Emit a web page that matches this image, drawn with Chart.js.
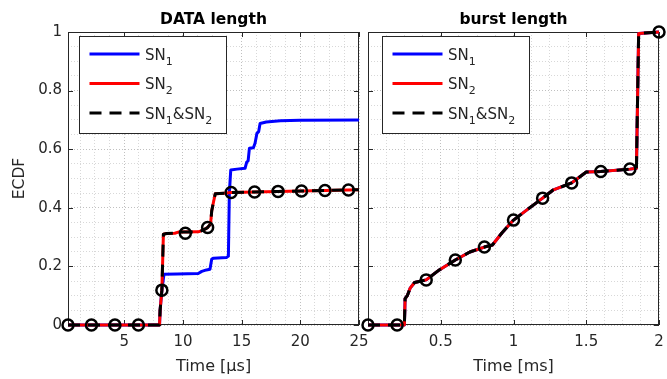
<!DOCTYPE html>
<html>
<head>
<meta charset="utf-8">
<script src="https://cdn.jsdelivr.net/npm/chart.js@4/dist/chart.umd.min.js"></script>
<style>
html, body { margin: 0; padding: 0; background: #fff; }
#wrap { position: relative; width: 667px; height: 379px; }
canvas { position: absolute; left: 0; top: 0; }
</style>
</head>
<body>
<div id="wrap">
  <canvas id="graficoDatos" width="667" height="379"></canvas>
  <canvas id="graficoRafaga" width="667" height="379"></canvas>
</div>
<script>
// DATA length (tiempo en us)
var datosSn1X = [0.2, 8.0, 8.05, 8.2, 8.38, 9.5, 11.3, 11.6, 12.0, 12.3, 12.45, 12.6, 13.7, 13.87, 13.95, 14.07, 14.6, 15.29, 15.43, 15.55, 15.66, 16.0, 16.14, 16.3, 16.45, 16.57, 17.1, 18.3, 20, 25];
var datosSn1Y = [0, 0, 0.05, 0.119, 0.173, 0.174, 0.176, 0.183, 0.188, 0.19, 0.225, 0.228, 0.23, 0.235, 0.45, 0.529, 0.532, 0.535, 0.556, 0.56, 0.603, 0.605, 0.62, 0.654, 0.66, 0.688, 0.693, 0.697, 0.699, 0.7];
var datosSn2X = [0.2, 8.0, 8.05, 8.2, 8.33, 8.6, 9.3, 9.6, 11.3, 11.6, 12.0, 12.1, 12.35, 12.45, 12.6, 12.75, 13.5, 14.1, 16.1, 18.1, 20.1, 22.1, 25];
var datosSn2Y = [0, 0, 0.05, 0.119, 0.31, 0.312, 0.313, 0.317, 0.318, 0.322, 0.33, 0.333, 0.345, 0.39, 0.42, 0.448, 0.45, 0.452, 0.454, 0.456, 0.457, 0.459, 0.462];
var datosAmbosX = [0.2, 8.0, 8.05, 8.2, 8.33, 8.6, 9.3, 9.6, 11.3, 11.6, 12.0, 12.1, 12.35, 12.45, 12.6, 12.75, 13.5, 14.1, 16.1, 18.1, 20.1, 22.1, 25];
var datosAmbosY = [0, 0, 0.05, 0.119, 0.31, 0.312, 0.313, 0.317, 0.318, 0.322, 0.33, 0.333, 0.345, 0.39, 0.42, 0.448, 0.45, 0.452, 0.454, 0.456, 0.457, 0.459, 0.462];
var datosMarcaX = [0.2, 2.2, 4.2, 6.2, 8.2, 10.2, 12.1, 14.1, 16.1, 18.1, 20.1, 22.1, 24.1];
var datosMarcaY = [0, 0, 0, 0, 0.119, 0.313, 0.333, 0.452, 0.454, 0.456, 0.457, 0.459, 0.461];

// burst length (tiempo en ms)
var rafagaSn1X = [0, 0.25, 0.255, 0.27, 0.29, 0.32, 0.4, 0.49, 0.6, 0.7, 0.8, 0.855, 0.92, 1.0, 1.09, 1.2, 1.27, 1.4, 1.5, 1.6, 1.8, 1.845, 1.86, 2.0];
var rafagaSn1Y = [0, 0, 0.09, 0.1, 0.126, 0.145, 0.154, 0.188, 0.222, 0.249, 0.266, 0.273, 0.314, 0.358, 0.392, 0.433, 0.46, 0.485, 0.522, 0.524, 0.532, 0.535, 0.995, 1.0];
var rafagaSn2X = [0, 0.25, 0.255, 0.27, 0.29, 0.32, 0.4, 0.49, 0.6, 0.7, 0.8, 0.855, 0.92, 1.0, 1.09, 1.2, 1.27, 1.4, 1.5, 1.6, 1.8, 1.845, 1.86, 2.0];
var rafagaSn2Y = [0, 0, 0.09, 0.1, 0.126, 0.145, 0.154, 0.188, 0.222, 0.249, 0.266, 0.273, 0.314, 0.358, 0.392, 0.433, 0.46, 0.485, 0.522, 0.524, 0.532, 0.535, 0.995, 1.0];
var rafagaAmbosX = [0, 0.25, 0.255, 0.27, 0.29, 0.32, 0.4, 0.49, 0.6, 0.7, 0.8, 0.855, 0.92, 1.0, 1.09, 1.2, 1.27, 1.4, 1.5, 1.6, 1.8, 1.845, 1.86, 2.0];
var rafagaAmbosY = [0, 0, 0.09, 0.1, 0.126, 0.145, 0.154, 0.188, 0.222, 0.249, 0.266, 0.273, 0.314, 0.358, 0.392, 0.433, 0.46, 0.485, 0.522, 0.524, 0.532, 0.535, 0.995, 1.0];
var rafagaMarcaX = [0, 0.2, 0.4, 0.6, 0.8, 1.0, 1.2, 1.4, 1.6, 1.8, 2.0];
var rafagaMarcaY = [0, 0, 0.154, 0.222, 0.266, 0.358, 0.433, 0.485, 0.524, 0.532, 1.0];

// etiquetas de ejes
var etiquetasSerie = ['SN_1', 'SN_2', 'SN_1&SN_2'];
var ticksDatosX = [5, 10, 15, 20, 25];
var ticksRafagaX = [0.5, 1, 1.5, 2];
var ticksY = [0, 0.2, 0.4, 0.6, 0.8, 1];

var fuente = 'DejaVu Sans';
var colorTexto = '#262626';

function esMayor(v, lista) {
  return lista.some(function (t) { return Math.abs(t - v) < 1e-9; });
}
function formato(v) { return String(Math.round(v * 1000) / 1000); }
function puntos(xs, ys) {
  return xs.map(function (x, i) { return { x: x, y: ys[i] }; });
}

// texto con subindices: 'SN_1' -> SN con 1 abajo
function dibujarTexto(c, txt, x, base) {
  var partes = txt.split(/_(\d)/);
  partes.forEach(function (p, i) {
    if (!p) return;
    var sub = i % 2 === 1;
    c.font = (sub ? '11px ' : '15px ') + fuente;
    c.fillText(p, x, sub ? base + 5 : base);
    x += c.measureText(p).width;
  });
}

// marco, ticks hacia dentro y leyenda dentro del area
var pluginMarco = {
  id: 'marco',
  beforeDatasetsDraw: function (chart, args, opts) {
    var a = chart.chartArea, c = chart.ctx;
    var sx = chart.scales.x, sy = chart.scales.y;
    c.save();
    c.strokeStyle = colorTexto;
    c.lineWidth = 1;
    c.beginPath();
    opts.ticksX.forEach(function (v) {
      var px = Math.round(sx.getPixelForValue(v)) + 0.5;
      c.moveTo(px, a.bottom); c.lineTo(px, a.bottom - 5);
      c.moveTo(px, a.top); c.lineTo(px, a.top + 5);
    });
    opts.ticksY.forEach(function (v) {
      var py = Math.round(sy.getPixelForValue(v)) + 0.5;
      c.moveTo(a.left, py); c.lineTo(a.left + 5, py);
      c.moveTo(a.right, py); c.lineTo(a.right - 5, py);
    });
    c.stroke();
    c.strokeRect(Math.round(a.left) + 0.5, Math.round(a.top) + 0.5,
      Math.round(a.right - a.left) - 1, Math.round(a.bottom - a.top) - 1);
    c.restore();
  },
  afterDraw: function (chart, args, opts) {
    var a = chart.chartArea, c = chart.ctx;
    var x0 = Math.round(a.left + opts.legX), y0 = Math.round(a.top + 4);
    var w = opts.legW, h = 97;
    c.save();
    c.fillStyle = '#fff';
    c.fillRect(x0, y0, w, h);
    c.strokeStyle = colorTexto;
    c.lineWidth = 1;
    c.strokeRect(x0 + 0.5, y0 + 0.5, w, h);
    chart.data.datasets.filter(function (d) { return d.enLeyenda; }).forEach(function (d, i) {
      var yy = y0 + 18 + i * 29.5;
      c.beginPath();
      c.setLineDash(d.borderDash || []);
      c.strokeStyle = d.borderColor;
      c.lineWidth = d.borderWidth;
      c.moveTo(x0 + 10.5, yy);
      c.lineTo(x0 + 60.5, yy);
      c.stroke();
      c.setLineDash([]);
      c.fillStyle = colorTexto;
      c.textBaseline = 'alphabetic';
      dibujarTexto(c, d.label, x0 + 66, yy + 5.5);
    });
    c.restore();
  }
};

function crearGrafico(id, conf) {
  var ctx = document.getElementById(id).getContext('2d');
  return new Chart(ctx, {
    type: 'line',
    data: {
      datasets: [
        { label: etiquetasSerie[0], enLeyenda: true, data: puntos(conf.sn1X, conf.sn1Y),
          borderColor: '#0000ff', borderWidth: 3, pointRadius: 0, order: 4 },
        { label: etiquetasSerie[1], enLeyenda: true, data: puntos(conf.sn2X, conf.sn2Y),
          borderColor: '#ff0000', borderWidth: 3, pointRadius: 0, order: 3 },
        { label: etiquetasSerie[2], enLeyenda: true, data: puntos(conf.ambosX, conf.ambosY),
          borderColor: '#000000', borderWidth: 3, borderDash: [12, 8], pointRadius: 0, order: 2 },
        { label: 'marcas', data: puntos(conf.marcaX, conf.marcaY), showLine: false,
          pointRadius: 5.5, pointBorderWidth: 2.5, pointBorderColor: '#000000',
          pointBackgroundColor: 'rgba(0,0,0,0)', pointStyle: 'circle', order: 1 }
      ]
    },
    options: {
      responsive: false,
      animation: false,
      clip: false,
      layout: { padding: conf.padding },
      elements: { line: { tension: 0, borderJoinStyle: 'round' } },
      plugins: {
        legend: { display: false },
        tooltip: { enabled: false },
        title: {
          display: true, text: conf.titulo, fullSize: false, color: '#000',
          font: { family: fuente, size: 15.5, weight: 'bold' },
          padding: { top: 10.5, bottom: 2.9 }
        },
        marco: { ticksX: conf.ticksX, ticksY: ticksY, legX: conf.legX, legW: conf.legW }
      },
      scales: {
        x: {
          type: 'linear', min: conf.xMin, max: conf.xMax,
          ticks: {
            stepSize: conf.paso, includeBounds: false, autoSkip: false, maxRotation: 0,
            padding: 8, color: colorTexto, font: { family: fuente, size: 15 },
            callback: function (v) { return esMayor(v, conf.ticksX) ? formato(v) : ''; }
          },
          grid: {
            drawTicks: false,
            color: function (c) { return c.tick && esMayor(c.tick.value, conf.ticksX) ? '#c0c0c0' : '#d8d8d8'; }
          },
          border: { display: false, dash: [1, 2] },
          title: { display: true, text: conf.tituloX, color: colorTexto,
            font: { family: fuente, size: 16 }, padding: { top: 0, bottom: 3 } },
          afterFit: function (s) { s.height = 54; s.paddingLeft = 0; s.paddingRight = 0; }
        },
        y: {
          type: 'linear', min: 0, max: 1,
          ticks: {
            display: conf.conEtiquetasY, stepSize: 0.05, autoSkip: false, padding: 6,
            color: colorTexto, font: { family: fuente, size: 15 },
            callback: function (v) { return esMayor(v, ticksY) ? formato(v) : ''; }
          },
          grid: {
            drawTicks: false,
            color: function (c) { return c.tick && esMayor(c.tick.value, ticksY) ? '#c0c0c0' : '#d8d8d8'; }
          },
          border: { display: false, dash: [1, 2] },
          title: { display: conf.conEtiquetasY, text: 'ECDF', color: colorTexto,
            font: { family: fuente, size: 15.5 }, padding: { top: 11, bottom: 0 } },
          afterFit: function (s) { s.width = conf.anchoY; s.paddingTop = 0; s.paddingBottom = 0; }
        }
      }
    },
    plugins: [pluginMarco]
  });
}

crearGrafico('graficoDatos', {
  titulo: 'DATA length', tituloX: 'Time [\u03bcs]',
  sn1X: datosSn1X, sn1Y: datosSn1Y, sn2X: datosSn2X, sn2Y: datosSn2Y,
  ambosX: datosAmbosX, ambosY: datosAmbosY, marcaX: datosMarcaX, marcaY: datosMarcaY,
  xMin: 0.2, xMax: 25, paso: 1.25, ticksX: ticksDatosX,
  conEtiquetasY: true, anchoY: 68, legX: 11, legW: 147,
  padding: { left: 0, top: 0, right: 308, bottom: 0 }
});

crearGrafico('graficoRafaga', {
  titulo: 'burst length', tituloX: 'Time [ms]',
  sn1X: rafagaSn1X, sn1Y: rafagaSn1Y, sn2X: rafagaSn2X, sn2Y: rafagaSn2Y,
  ambosX: rafagaAmbosX, ambosY: rafagaAmbosY, marcaX: rafagaMarcaX, marcaY: rafagaMarcaY,
  xMin: 0, xMax: 2, paso: 0.125, ticksX: ticksRafagaX,
  conEtiquetasY: false, anchoY: 0, legX: 13.5, legW: 147,
  padding: { left: 368, top: 0, right: 7, bottom: 0 }
});
</script>
</body>
</html>
